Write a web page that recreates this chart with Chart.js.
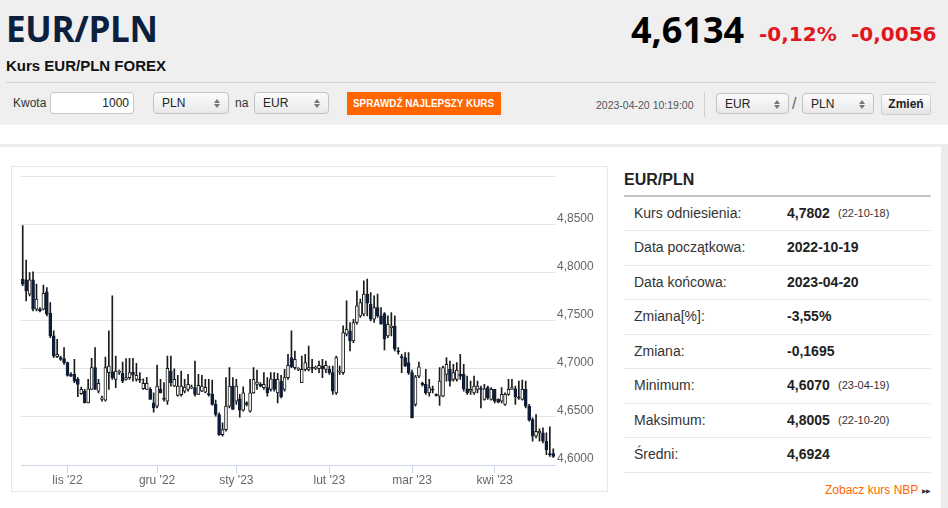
<!DOCTYPE html>
<html lang="pl">
<head>
<meta charset="utf-8">
<title>Kurs EUR/PLN FOREX</title>
<script src="https://cdn.jsdelivr.net/npm/chart.js@4.4.0/dist/chart.umd.min.js"></script>
<style>
  body { margin:0; width:948px; height:508px; overflow:hidden; background:#fff; position:relative;
         font-family:"Liberation Sans", Arial, sans-serif; color:#333; }
  .abs { position:absolute; white-space:nowrap; }
  .sel { position:absolute; box-sizing:border-box; height:22px; border:1px solid #c2c2c2; border-radius:4px;
         background:linear-gradient(#fbfbfb, #e9e9e9); font-size:12px; line-height:20px; padding-left:8px; color:#222; }
  .sel i, .sel b { position:absolute; right:8px; width:0; height:0; border-left:3px solid transparent; border-right:3px solid transparent; }
  .sel i { top:6px; border-bottom:4px solid #777; }
  .sel b { top:11px; border-top:4px solid #777; }
  .row { position:absolute; left:624px; width:307px; height:34.45px; box-sizing:border-box; border-bottom:1px solid #e8e8e8; line-height:33px; }
  .row span { position:absolute; white-space:nowrap; }
</style>
</head>
<body>
<div class="abs" style="left:0;top:0;width:948px;height:125px;background:#efefef;"></div>
<div class="abs" style="left:6px;top:9px;font:bold 35px/40px 'Open Sans';color:#0b203d;letter-spacing:-0.3px;">EUR/PLN</div>
<div class="abs" style="left:6px;top:56px;font:bold 15px/20px 'Liberation Sans';color:#111;">Kurs EUR/PLN FOREX</div>
<div class="abs" style="left:631px;top:10px;font:bold 36px/40px 'Open Sans';color:#000;">4,6134</div>
<div class="abs" style="left:759px;top:22px;font:bold 20px/24px 'DejaVu Sans';color:#e3161e;">-0,12%</div>
<div class="abs" style="left:851px;top:22px;font:bold 20px/24px 'DejaVu Sans';color:#e3161e;">-0,0056</div>
<div class="abs" style="left:6px;top:82px;width:929px;height:1px;background:#d4d4d4;"></div>

<div class="abs" style="left:13px;top:96px;font-size:12px;line-height:15px;">Kwota</div>
<div class="abs" style="left:50px;top:92px;width:84px;height:22px;box-sizing:border-box;border:1px solid #c8c8c8;border-radius:3px;background:#fff;font-size:12px;line-height:20px;text-align:right;padding-right:4px;color:#222;">1000</div>
<div class="sel" style="left:153px;top:92px;width:76px;">PLN<i></i><b></b></div>
<div class="abs" style="left:235px;top:96px;font-size:12px;line-height:15px;">na</div>
<div class="sel" style="left:254px;top:92px;width:75px;">EUR<i></i><b></b></div>
<div class="abs" style="left:347px;top:92px;width:154px;height:23px;background:#ff6600;"></div>
<div class="abs" style="left:353px;top:96px;font:bold 11.5px/15px 'Liberation Sans';color:#fff;transform:scaleX(0.86);transform-origin:0 0;">SPRAWDŹ NAJLEPSZY KURS</div>
<div class="abs" style="left:596px;top:98px;font-size:10.5px;line-height:14px;color:#555;">2023-04-20 10:19:00</div>
<div class="abs" style="left:704px;top:92px;width:1px;height:25px;background:#cfcfcf;"></div>
<div class="sel" style="left:716px;top:93px;width:73px;height:21px;">EUR<i></i><b></b></div>
<div class="abs" style="left:792px;top:94px;font-size:16px;line-height:20px;color:#666;">/</div>
<div class="sel" style="left:802px;top:93px;width:72px;height:21px;">PLN<i></i><b></b></div>
<div class="abs" style="left:881px;top:94px;width:50px;height:21px;box-sizing:border-box;border:1px solid #cfcfcf;border-radius:2px;background:linear-gradient(#ffffff,#e4e4e4);font:bold 12px/19px 'Liberation Sans';text-align:center;color:#222;">Zmień</div>

<div class="abs" style="left:0;top:144px;width:941px;height:3px;background:#ececec;"></div>
<div class="abs" style="left:941px;top:144px;width:7px;height:364px;background:#ececec;"></div>

<div class="abs" style="left:11px;top:166px;width:597px;height:326px;box-sizing:border-box;border:1px solid #e6e6e6;"></div>
<div class="abs" style="left:12px;top:167px;width:594px;height:321px;"><canvas id="kurs"></canvas></div>

<div class="abs" style="left:624px;top:170px;font:bold 16px/20px 'Liberation Sans';color:#222;">EUR/PLN</div>
<div class="abs" style="left:624px;top:195px;width:307px;height:2px;background:#c4c4c4;"></div>
<div id="stats"></div>
<div class="abs" style="left:825px;top:483px;font-size:12px;line-height:15px;color:#f60;">Zobacz kurs NBP</div>
<div class="abs" style="left:922px;top:484px;font-size:6px;line-height:14px;color:#333;letter-spacing:-1px;">▶▶</div>

<script>
// świece dzienne EUR/PLN
const openP = [
  4.7931, 4.7924, 4.7775, 4.7924, 4.7618, 4.7618, 4.7618, 4.7799, 4.7577, 4.7341,
  4.7125, 4.7115, 4.7105, 4.7063, 4.6941, 4.6941, 4.6889, 4.6740, 4.6768, 4.6646,
  4.6785, 4.7011, 4.6768, 4.6681, 4.6674, 4.6959, 4.6969, 4.6889, 4.6962, 4.6952,
  4.6889, 4.6907, 4.6966, 4.6889, 4.6889, 4.6792, 4.6785, 4.6785, 4.6646, 4.6612,
  4.6785, 4.6695, 4.6664, 4.6976, 4.6820, 4.6723, 4.6730, 4.6768, 4.6785, 4.6799,
  4.6803, 4.6733, 4.6768, 4.6757, 4.6743, 4.6733, 4.6629, 4.6525, 4.6316, 4.6368,
  4.6612, 4.6820, 4.6664, 4.6688, 4.6570, 4.6646, 4.6560, 4.6750, 4.6837, 4.6841,
  4.6803, 4.6803, 4.6785, 4.6889, 4.6750, 4.6872, 4.6785, 4.6907, 4.7115, 4.7011,
  4.6994, 4.6855, 4.6994, 4.6987, 4.7011, 4.7004, 4.7000, 4.7028, 4.6994, 4.6994,
  4.6959, 4.6750, 4.6966, 4.6959, 4.7358, 4.7393, 4.7289, 4.7480, 4.7549, 4.7566,
  4.7775, 4.7671, 4.7514, 4.7636, 4.7549, 4.7573, 4.7341, 4.7427, 4.7444, 4.7185,
  4.7125, 4.7115, 4.7063, 4.6959, 4.6629, 4.6924, 4.6848, 4.6837, 4.6750, 4.6785,
  4.6733, 4.6716, 4.6716, 4.6941, 4.6994, 4.6889, 4.6889, 4.6941, 4.6941, 4.6792,
  4.6768, 4.6750, 4.6785, 4.6792, 4.6681, 4.6803, 4.6681, 4.6785, 4.6681, 4.6664,
  4.6629, 4.6733, 4.6785, 4.6792, 4.6709, 4.6681, 4.6785, 4.6612, 4.6473, 4.6299,
  4.6334, 4.6334, 4.6247, 4.6115, 4.6118
];
const highP = [
  4.8487, 4.8129, 4.8000, 4.8007, 4.7879, 4.7636, 4.7869, 4.7844, 4.7688, 4.7393,
  4.7306, 4.7132, 4.7219, 4.7070, 4.6959, 4.7098, 4.6907, 4.6809, 4.6785, 4.6889,
  4.7108, 4.7219, 4.6889, 4.6716, 4.7122, 4.7393, 4.7757, 4.7132, 4.6987, 4.7070,
  4.7105, 4.7108, 4.7108, 4.7056, 4.6959, 4.6896, 4.6910, 4.6803, 4.6750, 4.7039,
  4.6889, 4.6855, 4.7132, 4.7132, 4.7000, 4.6931, 4.6976, 4.6889, 4.6941, 4.6830,
  4.7080, 4.6941, 4.6931, 4.6889, 4.6889, 4.6882, 4.6674, 4.6542, 4.6438, 4.6907,
  4.7011, 4.6907, 4.6889, 4.6733, 4.6813, 4.6660, 4.6889, 4.7011, 4.6987, 4.6855,
  4.6959, 4.6907, 4.6959, 4.6959, 4.6952, 4.6931, 4.6994, 4.7150, 4.7393, 4.7184,
  4.7011, 4.7132, 4.7150, 4.7236, 4.7098, 4.7028, 4.7080, 4.7098, 4.7080, 4.7028,
  4.7028, 4.7132, 4.7028, 4.7445, 4.7705, 4.7480, 4.7514, 4.7810, 4.7723, 4.7914,
  4.7931, 4.7792, 4.7757, 4.7775, 4.7636, 4.7584, 4.7549, 4.7584, 4.7549, 4.7219,
  4.7150, 4.7167, 4.7167, 4.6987, 4.6931, 4.7070, 4.6862, 4.6994, 4.6889, 4.6820,
  4.6740, 4.7011, 4.7028, 4.7115, 4.7080, 4.7046, 4.7063, 4.7150, 4.7046, 4.6924,
  4.6872, 4.6924, 4.6872, 4.6820, 4.6837, 4.6820, 4.6803, 4.6785, 4.6688, 4.6803,
  4.6750, 4.6889, 4.6889, 4.6820, 4.6872, 4.6882, 4.6872, 4.6629, 4.6490, 4.6525,
  4.6375, 4.6386, 4.6334, 4.6396, 4.6167
];
const lowP = [
  4.7862, 4.7705, 4.7757, 4.7601, 4.7601, 4.7591, 4.7611, 4.7549, 4.7323, 4.7115,
  4.7115, 4.7087, 4.7046, 4.6924, 4.6917, 4.6855, 4.6709, 4.6733, 4.6646, 4.6646,
  4.6785, 4.6785, 4.6750, 4.6664, 4.6664, 4.6785, 4.6889, 4.6803, 4.6941, 4.6855,
  4.6882, 4.6889, 4.6872, 4.6872, 4.6855, 4.6785, 4.6785, 4.6681, 4.6549, 4.6594,
  4.6750, 4.6664, 4.6629, 4.6820, 4.6813, 4.6716, 4.6716, 4.6750, 4.6768, 4.6792,
  4.6716, 4.6733, 4.6761, 4.6750, 4.6716, 4.6622, 4.6507, 4.6306, 4.6299, 4.6351,
  4.6594, 4.6577, 4.6629, 4.6497, 4.6560, 4.6615, 4.6549, 4.6743, 4.6785, 4.6810,
  4.6785, 4.6716, 4.6768, 4.6768, 4.6646, 4.6698, 4.6768, 4.6889, 4.7011, 4.6994,
  4.6980, 4.6855, 4.6976, 4.6976, 4.6959, 4.6990, 4.6959, 4.6907, 4.6959, 4.6941,
  4.6733, 4.6733, 4.6941, 4.6941, 4.7341, 4.7185, 4.7271, 4.7462, 4.7532, 4.7549,
  4.7549, 4.7497, 4.7480, 4.7532, 4.7462, 4.7195, 4.7323, 4.7341, 4.7185, 4.7150,
  4.6959, 4.7021, 4.6941, 4.6490, 4.6612, 4.6907, 4.6820, 4.6733, 4.6716, 4.6750,
  4.6716, 4.6619, 4.6709, 4.6872, 4.6820, 4.6872, 4.6872, 4.6889, 4.6768, 4.6733,
  4.6733, 4.6733, 4.6750, 4.6594, 4.6674, 4.6681, 4.6674, 4.6646, 4.6646, 4.6646,
  4.6619, 4.6723, 4.6785, 4.6629, 4.6681, 4.6674, 4.6594, 4.6455, 4.6247, 4.6282,
  4.6247, 4.6230, 4.6108, 4.6090, 4.6080
];
const closeP = [
  4.7879, 4.7809, 4.7924, 4.7618, 4.7723, 4.7601, 4.7782, 4.7566, 4.7341, 4.7132,
  4.7150, 4.7098, 4.7063, 4.6931, 4.6924, 4.6872, 4.6837, 4.6785, 4.6646, 4.6792,
  4.7011, 4.6785, 4.6848, 4.6698, 4.7011, 4.7028, 4.6907, 4.6976, 4.6966, 4.6872,
  4.6907, 4.6959, 4.6934, 4.6931, 4.6882, 4.6848, 4.6848, 4.6681, 4.6594, 4.6820,
  4.6750, 4.6681, 4.7004, 4.6855, 4.6889, 4.6820, 4.6820, 4.6809, 4.6837, 4.6813,
  4.6733, 4.6827, 4.6820, 4.6806, 4.6730, 4.6629, 4.6525, 4.6316, 4.6368, 4.6612,
  4.6820, 4.6577, 4.6820, 4.6570, 4.6750, 4.6629, 4.6750, 4.6889, 4.6862, 4.6820,
  4.6837, 4.6750, 4.6896, 4.6785, 4.6889, 4.6709, 4.6907, 4.7035, 4.7021, 4.7098,
  4.7000, 4.6994, 4.7063, 4.7011, 4.7004, 4.7011, 4.7035, 4.7000, 4.7035, 4.6959,
  4.6768, 4.7115, 4.6976, 4.7375, 4.7410, 4.7289, 4.7480, 4.7653, 4.7688, 4.7775,
  4.7681, 4.7514, 4.7636, 4.7549, 4.7462, 4.7306, 4.7462, 4.7444, 4.7202, 4.7174,
  4.7115, 4.7028, 4.6959, 4.6490, 4.6917, 4.7021, 4.6834, 4.6750, 4.6803, 4.6778,
  4.6723, 4.6872, 4.7011, 4.7046, 4.6872, 4.6959, 4.6987, 4.6924, 4.6792, 4.6750,
  4.6785, 4.6820, 4.6820, 4.6785, 4.6792, 4.6698, 4.6785, 4.6664, 4.6653, 4.6733,
  4.6733, 4.6785, 4.6803, 4.6709, 4.6695, 4.6785, 4.6612, 4.6466, 4.6299, 4.6351,
  4.6351, 4.6247, 4.6160, 4.6108, 4.6090
];

// etykiety miesięcy i indeks pierwszej świecy danego miesiąca
const monthLabels = ["lis '22", "gru '22", "sty '23", "lut '23", "mar '23", "kwi '23"];
const monthStarts = [13, 39, 62, 89, 113, 137];

const yMin = 4.6;
const yMax = 4.9;
const yStep = 0.05;

const statLabels = ['Kurs odniesienia:', 'Data początkowa:', 'Data końcowa:', 'Zmiana[%]:', 'Zmiana:', 'Minimum:', 'Maksimum:', 'Średni:'];
const statValues = ['4,7802', '2022-10-19', '2023-04-20', '-3,55%', '-0,1695', '4,6070', '4,8005', '4,6924'];
const statDates = ['(22-10-18)', '', '', '', '', '(23-04-19)', '(22-10-20)', ''];

// tabela po prawej
const stats = document.getElementById('stats');
statLabels.forEach((lab, i) => {
  const row = document.createElement('div');
  row.className = 'row';
  row.style.top = (197 + i * 34.45) + 'px';
  row.innerHTML =
    '<span style="left:10px;font-size:14px;color:#333;">' + lab + '</span>' +
    '<span style="left:163px;font-size:14px;font-weight:bold;color:#222;">' + statValues[i] + '</span>' +
    (statDates[i] ? '<span style="left:214px;font-size:11px;color:#333;">' + statDates[i] + '</span>' : '');
  stats.appendChild(row);
});

const labels = openP.map((_, i) => {
  const k = monthStarts.indexOf(i);
  return k >= 0 ? monthLabels[k] : '';
});
const up = closeP.map((c, i) => c >= openP[i]);
const axisFont = { family: '"Liberation Sans", Arial, sans-serif', size: 12 };

new Chart(document.getElementById('kurs'), {
  type: 'bar',
  data: {
    labels: labels,
    datasets: [{
      label: 'korpus',
      data: openP.map((o, i) => [o, closeP[i]]),
      backgroundColor: up.map(u => u ? '#ffffff' : '#0e1d38'),
      borderColor: up.map(u => u ? '#1b1b1b' : '#0e1d38'),
      borderWidth: 1,
      borderSkipped: false,
      barThickness: 3,
      minBarLength: 1,
      grouped: false,
      order: 0
    }, {
      label: 'cień',
      data: lowP.map((l, i) => [l, highP[i]]),
      backgroundColor: '#1b1b1b',
      barThickness: 1,
      grouped: false,
      order: 1
    }]
  },
  options: {
    responsive: true,
    maintainAspectRatio: false,
    animation: false,
    layout: { padding: { top: 9, left: 9, right: 0, bottom: 0 } },
    plugins: { legend: { display: false }, tooltip: { enabled: false } },
    scales: {
      x: {
        offset: true,
        grid: {
          offset: false,
          drawOnChartArea: false,
          tickLength: 8,
          color: c => (c.tick && c.tick.label) ? '#ccd6eb' : 'rgba(0,0,0,0)'
        },
        border: { color: '#ccd6eb' },
        ticks: { autoSkip: false, maxRotation: 0, padding: 0, color: '#666', font: axisFont },
        afterFit: s => { s.height = 23; }
      },
      y: {
        position: 'right',
        min: yMin,
        max: yMax,
        grid: { color: '#e3e3e3', drawTicks: false },
        border: { display: false },
        ticks: {
          stepSize: yStep,
          padding: 2,
          labelOffset: -6,
          color: '#666',
          font: axisFont,
          callback: v => v > yMax - 0.001 ? '' : v.toFixed(4).replace('.', ',')
        },
        afterFit: s => { s.width = 51; }
      }
    }
  }
});
</script>
</body>
</html>
